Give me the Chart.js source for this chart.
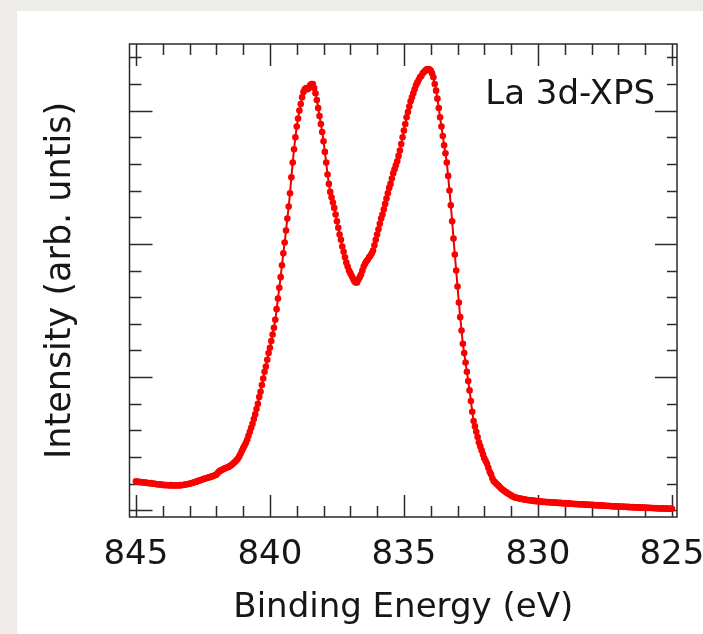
<!DOCTYPE html>
<html>
<head>
<meta charset="utf-8">
<script src="https://cdn.jsdelivr.net/npm/chart.js@4.4.1/dist/chart.umd.min.js"></script>
<style>
  html, body { margin: 0; padding: 0; overflow: hidden; background: #fff; }
  #xps { display: block; position: absolute; left: 0; top: 0; }
</style>
</head>
<body>
<canvas id="xps" width="703" height="634"></canvas>
<script>
// La 3d core-level spectrum, sampled every 0.05 eV from 845 eV down to 825 eV
const eStart = 845;
const eStep = 0.05;

const intensity = [
  // 845.00 .. 844.05
  0.218, 0.215, 0.214, 0.212, 0.213, 0.210, 0.208, 0.209, 0.206, 0.205, 0.203, 0.204, 0.201, 0.199, 0.200, 0.197, 0.196, 0.194, 0.195, 0.192,
  // 844.00 .. 843.05
  0.191, 0.190, 0.189, 0.190, 0.188, 0.187, 0.189, 0.186, 0.188, 0.187, 0.186, 0.188, 0.187, 0.189, 0.188, 0.190, 0.192, 0.194, 0.196, 0.198,
  // 843.00 .. 842.05
  0.200, 0.203, 0.205, 0.209, 0.212, 0.215, 0.219, 0.222, 0.226, 0.229, 0.233, 0.237, 0.240, 0.243, 0.246, 0.249, 0.252, 0.255, 0.259, 0.263,
  // 842.00 .. 841.05
  0.268, 0.280, 0.292, 0.298, 0.302, 0.308, 0.313, 0.318, 0.322, 0.326, 0.330, 0.338, 0.346, 0.355, 0.364, 0.375, 0.387, 0.403, 0.422, 0.445,
  // 841.00 .. 840.05
  0.465, 0.485, 0.505, 0.53, 0.56, 0.59, 0.62, 0.65, 0.685, 0.72, 0.76, 0.80, 0.85, 0.89, 0.94, 0.99, 1.04, 1.08, 1.13, 1.18,
  // 840.00 .. 839.05
  1.22, 1.27, 1.32, 1.37, 1.43, 1.51, 1.59, 1.67, 1.75, 1.84, 1.93, 2.01, 2.10, 2.19, 2.28, 2.38, 2.50, 2.61, 2.71, 2.80,
  // 839.00 .. 838.05  (3d 3/2 satellite peak)
  2.88, 2.94, 3.00, 3.05, 3.10, 3.14, 3.16, 3.17, 3.16, 3.17, 3.19, 3.20, 3.20, 3.17, 3.13, 3.08, 3.02, 2.96, 2.90, 2.84,
  // 838.00 .. 837.05
  2.77, 2.69, 2.61, 2.52, 2.45, 2.39, 2.35, 2.31, 2.27, 2.22, 2.17, 2.12, 2.07, 2.03, 1.98, 1.94, 1.90, 1.86, 1.83, 1.80,
  // 837.00 .. 836.05
  1.78, 1.76, 1.74, 1.72, 1.71, 1.71, 1.73, 1.75, 1.77, 1.80, 1.83, 1.85, 1.87, 1.88, 1.90, 1.91, 1.93, 1.95, 1.99, 2.03,
  // 836.00 .. 835.05
  2.07, 2.11, 2.15, 2.19, 2.22, 2.26, 2.30, 2.34, 2.38, 2.42, 2.45, 2.49, 2.53, 2.56, 2.59, 2.62, 2.66, 2.70, 2.75, 2.80,
  // 835.00 .. 834.05  (main 3d 5/2 line)
  2.85, 2.90, 2.95, 2.99, 3.03, 3.07, 3.10, 3.13, 3.16, 3.19, 3.21, 3.23, 3.25, 3.26, 3.28, 3.29, 3.30, 3.31, 3.31, 3.31,
  // 834.00 .. 833.05
  3.30, 3.28, 3.25, 3.20, 3.15, 3.09, 3.02, 2.95, 2.88, 2.81, 2.74, 2.68, 2.61, 2.51, 2.40, 2.29, 2.17, 2.04, 1.92, 1.80,
  // 833.00 .. 832.05
  1.68, 1.56, 1.45, 1.35, 1.25, 1.18, 1.11, 1.04, 0.97, 0.90, 0.82, 0.74, 0.67, 0.63, 0.59, 0.55, 0.51, 0.48, 0.45, 0.42,
  // 832.00 .. 831.05
  0.39, 0.37, 0.35, 0.32, 0.29, 0.27, 0.24, 0.22, 0.21, 0.20, 0.19, 0.18, 0.17, 0.16, 0.152, 0.145, 0.138, 0.131, 0.125, 0.118,
  // 831.00 .. 830.05
  0.112, 0.106, 0.100, 0.097, 0.094, 0.092, 0.090, 0.087, 0.086, 0.083, 0.082, 0.080, 0.078, 0.077, 0.075, 0.074, 0.073, 0.071, 0.071, 0.069,
  // 830.00 .. 829.05
  0.068, 0.066, 0.067, 0.064, 0.063, 0.064, 0.062, 0.061, 0.062, 0.060, 0.059, 0.060, 0.058, 0.057, 0.058, 0.056, 0.055, 0.056, 0.054, 0.053,
  // 829.00 .. 828.05
  0.054, 0.052, 0.051, 0.052, 0.050, 0.049, 0.050, 0.048, 0.047, 0.048, 0.046, 0.045, 0.046, 0.044, 0.045, 0.043, 0.042, 0.043, 0.041, 0.042,
  // 828.00 .. 827.05
  0.040, 0.041, 0.039, 0.038, 0.039, 0.037, 0.036, 0.037, 0.035, 0.036, 0.034, 0.033, 0.034, 0.032, 0.033, 0.031, 0.030, 0.031, 0.029, 0.030,
  // 827.00 .. 826.05
  0.028, 0.029, 0.027, 0.028, 0.026, 0.027, 0.025, 0.026, 0.024, 0.025, 0.023, 0.024, 0.022, 0.023, 0.022, 0.021, 0.022, 0.020, 0.021, 0.020,
  // 826.00 .. 825.05
  0.019, 0.020, 0.018, 0.019, 0.017, 0.018, 0.017, 0.016, 0.017, 0.015, 0.016, 0.015, 0.014, 0.015, 0.014, 0.013, 0.014, 0.013, 0.012, 0.013,
  // 825.00
  0.012
];

// axis ticks
const xTickValues = [845, 840, 835, 830, 825];
const xMinorStep = 1;
const yMajorTicks = [0, 1, 2, 3];
const yMinorStep = 0.2;
const yTickTop = 3.4;

const FONT = "'DejaVu Sans', Verdana, sans-serif";
const FSIZE = 34;
const INK = "#161616";

const points = intensity.map((v, i) => ({ x: eStart - i * eStep, y: v }));

// grey page with the white sheet the figure sits on
const sheet = {
  id: "sheet",
  beforeDraw(chart) {
    const { ctx, width, height } = chart;
    ctx.save();
    ctx.fillStyle = "#eeece9";
    ctx.fillRect(0, 0, width, height);
    ctx.fillStyle = "#ffffff";
    ctx.fillRect(17, 11, width - 17, height - 11);
    ctx.restore();
  }
};

// closed frame with inward ticks on all four sides + the panel label
const frameTicks = {
  id: "frameTicks",
  beforeDatasetsDraw(chart) {
    const { ctx, chartArea: a, scales: { x, y } } = chart;
    ctx.save();
    ctx.strokeStyle = "#2a2a2a";
    ctx.lineWidth = 1.5;
    ctx.strokeRect(a.left, a.top, a.right - a.left, a.bottom - a.top);
    ctx.beginPath();
    const eLo = Math.min(...xTickValues), eHi = Math.max(...xTickValues);
    for (let e = eLo; e <= eHi; e += xMinorStep) {
      const px = Math.round(x.getPixelForValue(e)) + 0.5;
      const len = xTickValues.includes(e) ? 22 : 11;
      ctx.moveTo(px, a.bottom); ctx.lineTo(px, a.bottom - len);
      ctx.moveTo(px, a.top); ctx.lineTo(px, a.top + len);
    }
    const n = Math.round(yTickTop / yMinorStep);
    for (let k = 0; k <= n; k++) {
      const v = +(k * yMinorStep).toFixed(2);
      const py = Math.round(y.getPixelForValue(v)) + 0.5;
      const major = yMajorTicks.includes(v);
      ctx.moveTo(a.left, py); ctx.lineTo(a.left + (major ? 23 : 12), py);
      ctx.moveTo(a.right, py); ctx.lineTo(a.right - (major ? 22 : 10), py);
    }
    ctx.stroke();

    ctx.fillStyle = INK;
    ctx.font = FSIZE + "px " + FONT;
    ctx.textAlign = "right";
    ctx.textBaseline = "alphabetic";
    ctx.fillText("La 3d-XPS", a.right - 22, a.top + 60);
    ctx.restore();
  }
};

new Chart(document.getElementById("xps"), {
  type: "scatter",
  data: {
    datasets: [{
      data: points,
      showLine: true,
      borderColor: "#e80000",
      borderWidth: 2,
      pointRadius: 3.3,
      pointBorderWidth: 0,
      pointBackgroundColor: "#fa0000",
      clip: 6
    }]
  },
  options: {
    responsive: false,
    animation: false,
    events: [],
    layout: { padding: { left: 0, top: 44, right: 26, bottom: 0 } },
    plugins: { legend: { display: false }, tooltip: { enabled: false } },
    scales: {
      x: {
        type: "linear",
        reverse: true,
        min: 824.81,
        max: 845.24,
        afterBuildTicks: (s) => { s.ticks = xTickValues.map((v) => ({ value: v })); },
        afterFit: (s) => {
          s.height = 117;
          // tick labels may overhang the frame; keep the plot box where it is
          s.paddingLeft = 0;
          s.paddingRight = 0;
        },
        grid: { display: false, drawTicks: false },
        border: { display: false },
        ticks: {
          padding: 18,
          maxRotation: 0,
          autoSkip: false,
          color: INK,
          font: { family: FONT, size: FSIZE }
        },
        title: {
          display: true,
          text: "Binding Energy (eV)",
          color: INK,
          font: { family: FONT, size: FSIZE },
          padding: { top: 0, bottom: 5 }
        }
      },
      y: {
        min: -0.05,
        max: 3.5,
        afterFit: (s) => {
          s.width = 129.5;
          s.paddingTop = 0;
          s.paddingBottom = 0;
        },
        grid: { display: false, drawTicks: false },
        border: { display: false },
        ticks: { display: false },
        title: {
          display: true,
          text: "Intensity (arb. untis)",
          color: INK,
          font: { family: FONT, size: 35 },
          padding: { top: 40, bottom: 0 }
        }
      }
    }
  },
  plugins: [sheet, frameTicks]
});
</script>
</body>
</html>
